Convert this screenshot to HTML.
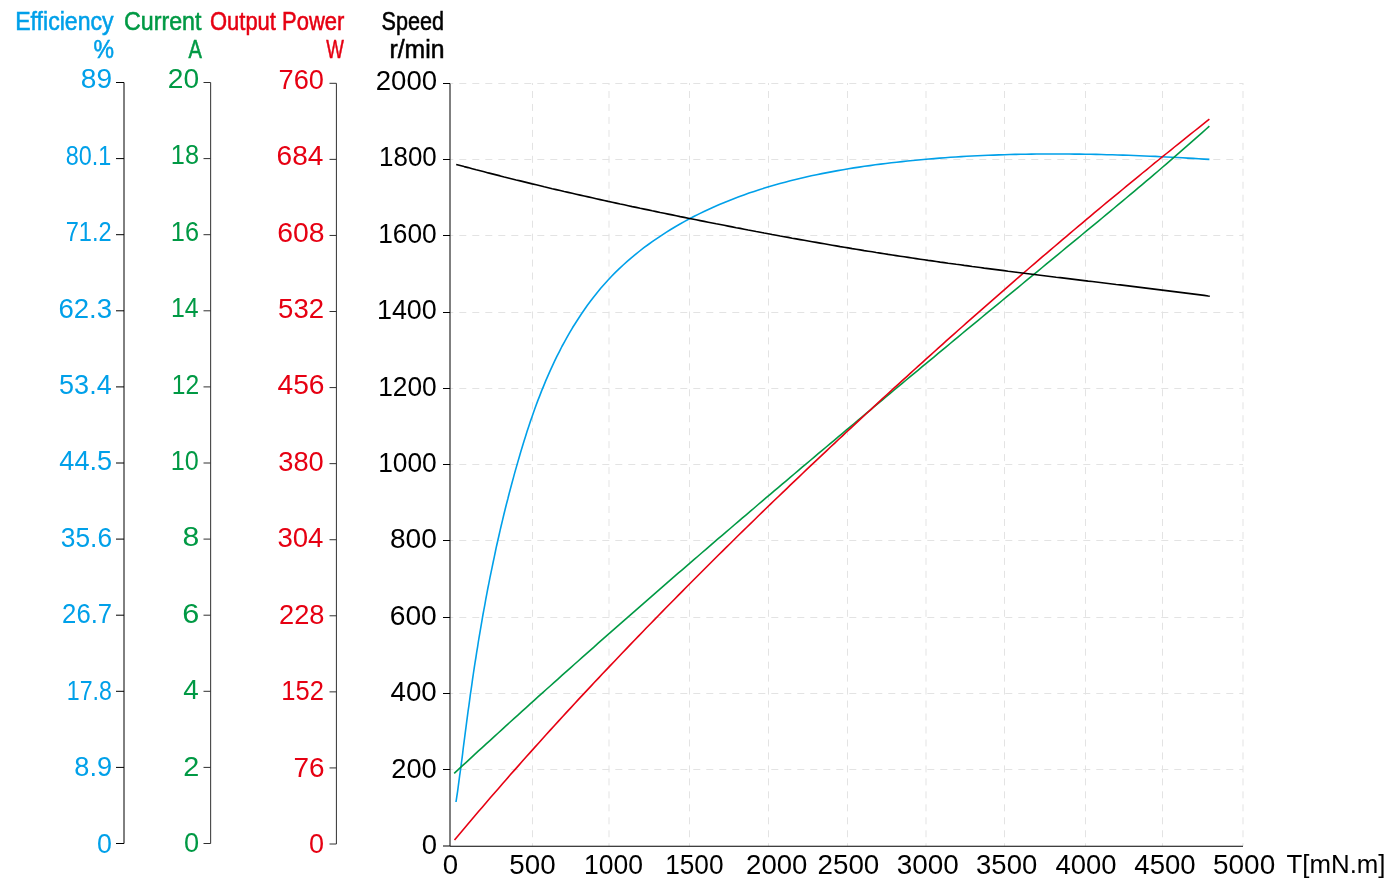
<!DOCTYPE html>
<html><head><meta charset="utf-8"><title>Motor characteristics</title>
<style>html,body{margin:0;padding:0;background:#fff;overflow:hidden}svg{display:block;will-change:transform}</style></head>
<body><svg width="1396" height="887" viewBox="0 0 1396 887">
<rect width="1396" height="887" fill="#fff"/>
<g stroke="#e3e3e3" stroke-width="1" stroke-dasharray="7 5.97" stroke-dashoffset="5" fill="none"><line x1="532.5" y1="83" x2="532.5" y2="846" /><line x1="609.0" y1="83" x2="609.0" y2="846" /><line x1="689.5" y1="83" x2="689.5" y2="846" /><line x1="768.5" y1="83" x2="768.5" y2="846" /><line x1="847.5" y1="83" x2="847.5" y2="846" /><line x1="926.0" y1="83" x2="926.0" y2="846" /><line x1="1004.5" y1="83" x2="1004.5" y2="846" /><line x1="1085.5" y1="83" x2="1085.5" y2="846" /><line x1="1162.5" y1="83" x2="1162.5" y2="846" /><line x1="1243.0" y1="83" x2="1243.0" y2="846" /></g>
<g stroke="#e3e3e3" stroke-width="1" stroke-dasharray="7 6" stroke-dashoffset="3.7" fill="none"><line x1="450" y1="83.5" x2="1243" y2="83.5" /><line x1="450" y1="159.5" x2="1243" y2="159.5" /><line x1="450" y1="235.5" x2="1243" y2="235.5" /><line x1="450" y1="312.5" x2="1243" y2="312.5" /><line x1="450" y1="388.5" x2="1243" y2="388.5" /><line x1="450" y1="464.5" x2="1243" y2="464.5" /><line x1="450" y1="540.5" x2="1243" y2="540.5" /><line x1="450" y1="617.5" x2="1243" y2="617.5" /><line x1="450" y1="693.5" x2="1243" y2="693.5" /><line x1="450" y1="769.5" x2="1243" y2="769.5" /></g>
<line x1="124.0" y1="82.5" x2="124.0" y2="843.5" stroke="#000" stroke-width="1"/><line x1="116.0" y1="82.50" x2="124.0" y2="82.50" stroke="#000" stroke-width="1"/><line x1="116.0" y1="158.60" x2="124.0" y2="158.60" stroke="#000" stroke-width="1"/><line x1="116.0" y1="234.70" x2="124.0" y2="234.70" stroke="#000" stroke-width="1"/><line x1="116.0" y1="310.80" x2="124.0" y2="310.80" stroke="#000" stroke-width="1"/><line x1="116.0" y1="386.90" x2="124.0" y2="386.90" stroke="#000" stroke-width="1"/><line x1="116.0" y1="463.00" x2="124.0" y2="463.00" stroke="#000" stroke-width="1"/><line x1="116.0" y1="539.10" x2="124.0" y2="539.10" stroke="#000" stroke-width="1"/><line x1="116.0" y1="615.20" x2="124.0" y2="615.20" stroke="#000" stroke-width="1"/><line x1="116.0" y1="691.30" x2="124.0" y2="691.30" stroke="#000" stroke-width="1"/><line x1="116.0" y1="767.40" x2="124.0" y2="767.40" stroke="#000" stroke-width="1"/><line x1="116.0" y1="843.50" x2="124.0" y2="843.50" stroke="#000" stroke-width="1"/>
<line x1="210.65" y1="82.5" x2="210.65" y2="843.5" stroke="#303030" stroke-width="1"/><line x1="203.5" y1="82.50" x2="210.65" y2="82.50" stroke="#303030" stroke-width="1"/><line x1="203.5" y1="158.60" x2="210.65" y2="158.60" stroke="#303030" stroke-width="1"/><line x1="203.5" y1="234.70" x2="210.65" y2="234.70" stroke="#303030" stroke-width="1"/><line x1="203.5" y1="310.80" x2="210.65" y2="310.80" stroke="#303030" stroke-width="1"/><line x1="203.5" y1="386.90" x2="210.65" y2="386.90" stroke="#303030" stroke-width="1"/><line x1="203.5" y1="463.00" x2="210.65" y2="463.00" stroke="#303030" stroke-width="1"/><line x1="203.5" y1="539.10" x2="210.65" y2="539.10" stroke="#303030" stroke-width="1"/><line x1="203.5" y1="615.20" x2="210.65" y2="615.20" stroke="#303030" stroke-width="1"/><line x1="203.5" y1="691.30" x2="210.65" y2="691.30" stroke="#303030" stroke-width="1"/><line x1="203.5" y1="767.40" x2="210.65" y2="767.40" stroke="#303030" stroke-width="1"/><line x1="203.5" y1="843.50" x2="210.65" y2="843.50" stroke="#303030" stroke-width="1"/>
<line x1="336.4" y1="83.3" x2="336.4" y2="844.0" stroke="#303030" stroke-width="1"/><line x1="329.5" y1="83.30" x2="336.4" y2="83.30" stroke="#303030" stroke-width="1"/><line x1="329.5" y1="159.37" x2="336.4" y2="159.37" stroke="#303030" stroke-width="1"/><line x1="329.5" y1="235.44" x2="336.4" y2="235.44" stroke="#303030" stroke-width="1"/><line x1="329.5" y1="311.51" x2="336.4" y2="311.51" stroke="#303030" stroke-width="1"/><line x1="329.5" y1="387.58" x2="336.4" y2="387.58" stroke="#303030" stroke-width="1"/><line x1="329.5" y1="463.65" x2="336.4" y2="463.65" stroke="#303030" stroke-width="1"/><line x1="329.5" y1="539.72" x2="336.4" y2="539.72" stroke="#303030" stroke-width="1"/><line x1="329.5" y1="615.79" x2="336.4" y2="615.79" stroke="#303030" stroke-width="1"/><line x1="329.5" y1="691.86" x2="336.4" y2="691.86" stroke="#303030" stroke-width="1"/><line x1="329.5" y1="767.93" x2="336.4" y2="767.93" stroke="#303030" stroke-width="1"/><line x1="329.5" y1="844.00" x2="336.4" y2="844.00" stroke="#303030" stroke-width="1"/>
<line x1="450.0" y1="83.5" x2="450.0" y2="846.0" stroke="#000" stroke-width="1"/><line x1="443.0" y1="83.50" x2="450.0" y2="83.50" stroke="#000" stroke-width="1"/><line x1="443.0" y1="159.50" x2="450.0" y2="159.50" stroke="#000" stroke-width="1"/><line x1="443.0" y1="235.50" x2="450.0" y2="235.50" stroke="#000" stroke-width="1"/><line x1="443.0" y1="312.50" x2="450.0" y2="312.50" stroke="#000" stroke-width="1"/><line x1="443.0" y1="388.50" x2="450.0" y2="388.50" stroke="#000" stroke-width="1"/><line x1="443.0" y1="464.50" x2="450.0" y2="464.50" stroke="#000" stroke-width="1"/><line x1="443.0" y1="540.50" x2="450.0" y2="540.50" stroke="#000" stroke-width="1"/><line x1="443.0" y1="617.50" x2="450.0" y2="617.50" stroke="#000" stroke-width="1"/><line x1="443.0" y1="693.50" x2="450.0" y2="693.50" stroke="#000" stroke-width="1"/><line x1="443.0" y1="769.50" x2="450.0" y2="769.50" stroke="#000" stroke-width="1"/><line x1="443.0" y1="846.00" x2="450.0" y2="846.00" stroke="#000" stroke-width="1"/>
<line x1="450" y1="846.25" x2="1243" y2="846.25" stroke="#000" stroke-width="1"/>
<g font-family='"Liberation Sans", sans-serif' font-size="27"><text x="80.81" y="88.00" fill="#00a0e9" textLength="31.22" lengthAdjust="spacingAndGlyphs">89</text><text x="65.82" y="165.00" fill="#00a0e9" textLength="45.55" lengthAdjust="spacingAndGlyphs">80.1</text><text x="65.67" y="241.00" fill="#00a0e9" textLength="45.96" lengthAdjust="spacingAndGlyphs">71.2</text><text x="58.45" y="318.00" fill="#00a0e9" textLength="53.67" lengthAdjust="spacingAndGlyphs">62.3</text><text x="59.11" y="394.00" fill="#00a0e9" textLength="52.55" lengthAdjust="spacingAndGlyphs">53.4</text><text x="59.37" y="470.00" fill="#00a0e9" textLength="52.78" lengthAdjust="spacingAndGlyphs">44.5</text><text x="60.76" y="547.00" fill="#00a0e9" textLength="51.30" lengthAdjust="spacingAndGlyphs">35.6</text><text x="62.09" y="623.00" fill="#00a0e9" textLength="50.05" lengthAdjust="spacingAndGlyphs">26.7</text><text x="66.82" y="700.00" fill="#00a0e9" textLength="45.08" lengthAdjust="spacingAndGlyphs">17.8</text><text x="74.35" y="776.00" fill="#00a0e9" textLength="37.82" lengthAdjust="spacingAndGlyphs">8.9</text><text x="97.10" y="853.00" fill="#00a0e9" textLength="14.91" lengthAdjust="spacingAndGlyphs">0</text><text x="167.87" y="88.00" fill="#009944" textLength="31.31" lengthAdjust="spacingAndGlyphs">20</text><text x="170.85" y="164.00" fill="#009944" textLength="28.14" lengthAdjust="spacingAndGlyphs">18</text><text x="170.85" y="241.00" fill="#009944" textLength="28.16" lengthAdjust="spacingAndGlyphs">16</text><text x="170.89" y="317.00" fill="#009944" textLength="27.68" lengthAdjust="spacingAndGlyphs">14</text><text x="171.71" y="394.00" fill="#009944" textLength="27.38" lengthAdjust="spacingAndGlyphs">12</text><text x="170.86" y="470.00" fill="#009944" textLength="27.99" lengthAdjust="spacingAndGlyphs">10</text><text x="182.41" y="546.00" fill="#009944" textLength="16.80" lengthAdjust="spacingAndGlyphs">8</text><text x="182.18" y="623.00" fill="#009944" textLength="17.07" lengthAdjust="spacingAndGlyphs">6</text><text x="183.15" y="699.00" fill="#009944" textLength="15.48" lengthAdjust="spacingAndGlyphs">4</text><text x="183.23" y="776.00" fill="#009944" textLength="16.05" lengthAdjust="spacingAndGlyphs">2</text><text x="183.98" y="852.00" fill="#009944" textLength="15.14" lengthAdjust="spacingAndGlyphs">0</text><text x="278.59" y="89.00" fill="#e60012" textLength="45.37" lengthAdjust="spacingAndGlyphs">760</text><text x="276.62" y="165.00" fill="#e60012" textLength="46.86" lengthAdjust="spacingAndGlyphs">684</text><text x="277.20" y="242.00" fill="#e60012" textLength="47.36" lengthAdjust="spacingAndGlyphs">608</text><text x="278.08" y="318.00" fill="#e60012" textLength="45.97" lengthAdjust="spacingAndGlyphs">532</text><text x="277.44" y="394.00" fill="#e60012" textLength="47.13" lengthAdjust="spacingAndGlyphs">456</text><text x="278.22" y="471.00" fill="#e60012" textLength="45.54" lengthAdjust="spacingAndGlyphs">380</text><text x="277.41" y="547.00" fill="#e60012" textLength="46.06" lengthAdjust="spacingAndGlyphs">304</text><text x="279.01" y="624.00" fill="#e60012" textLength="45.49" lengthAdjust="spacingAndGlyphs">228</text><text x="281.33" y="700.00" fill="#e60012" textLength="42.61" lengthAdjust="spacingAndGlyphs">152</text><text x="293.45" y="777.00" fill="#e60012" textLength="31.09" lengthAdjust="spacingAndGlyphs">76</text><text x="308.99" y="853.00" fill="#e60012" textLength="15.03" lengthAdjust="spacingAndGlyphs">0</text><text x="375.80" y="90.00" fill="#000000" textLength="61.29" lengthAdjust="spacingAndGlyphs">2000</text><text x="379.11" y="166.00" fill="#000000" textLength="57.61" lengthAdjust="spacingAndGlyphs">1800</text><text x="378.17" y="243.00" fill="#000000" textLength="58.56" lengthAdjust="spacingAndGlyphs">1600</text><text x="376.93" y="319.00" fill="#000000" textLength="59.83" lengthAdjust="spacingAndGlyphs">1400</text><text x="378.17" y="396.00" fill="#000000" textLength="58.56" lengthAdjust="spacingAndGlyphs">1200</text><text x="378.17" y="472.00" fill="#000000" textLength="58.56" lengthAdjust="spacingAndGlyphs">1000</text><text x="389.91" y="548.00" fill="#000000" textLength="46.89" lengthAdjust="spacingAndGlyphs">800</text><text x="389.71" y="625.00" fill="#000000" textLength="47.09" lengthAdjust="spacingAndGlyphs">600</text><text x="390.56" y="701.00" fill="#000000" textLength="46.22" lengthAdjust="spacingAndGlyphs">400</text><text x="391.32" y="778.00" fill="#000000" textLength="45.44" lengthAdjust="spacingAndGlyphs">200</text><text x="421.87" y="854.00" fill="#000000" textLength="15.26" lengthAdjust="spacingAndGlyphs">0</text><text x="442.86" y="874.00" fill="#000000" textLength="15.38" lengthAdjust="spacingAndGlyphs">0</text><text x="509.27" y="874.00" fill="#000000" textLength="46.31" lengthAdjust="spacingAndGlyphs">500</text><text x="583.96" y="874.00" fill="#000000" textLength="58.98" lengthAdjust="spacingAndGlyphs">1000</text><text x="665.18" y="874.00" fill="#000000" textLength="58.35" lengthAdjust="spacingAndGlyphs">1500</text><text x="746.10" y="874.00" fill="#000000" textLength="61.18" lengthAdjust="spacingAndGlyphs">2000</text><text x="817.49" y="874.00" fill="#000000" textLength="61.81" lengthAdjust="spacingAndGlyphs">2500</text><text x="896.89" y="874.00" fill="#000000" textLength="62.01" lengthAdjust="spacingAndGlyphs">3000</text><text x="976.11" y="874.00" fill="#000000" textLength="61.07" lengthAdjust="spacingAndGlyphs">3500</text><text x="1055.46" y="874.00" fill="#000000" textLength="61.02" lengthAdjust="spacingAndGlyphs">4000</text><text x="1134.36" y="874.00" fill="#000000" textLength="61.33" lengthAdjust="spacingAndGlyphs">4500</text><text x="1213.06" y="874.00" fill="#000000" textLength="62.14" lengthAdjust="spacingAndGlyphs">5000</text></g>
<text x="1286.5" y="873.3" fill="#000" font-family='"Liberation Sans", sans-serif' font-size="26.5" textLength="99" lengthAdjust="spacingAndGlyphs">T[mN.m]</text>
<text x="15.2" y="30" fill="#00a0e9" stroke="#00a0e9" stroke-width="0.55" font-family='"Liberation Sans", sans-serif' font-size="26" textLength="98.4" lengthAdjust="spacingAndGlyphs">Efficiency</text>
<text x="93.5" y="58" fill="#00a0e9" stroke="#00a0e9" stroke-width="0.55" font-family='"Liberation Sans", sans-serif' font-size="26" textLength="20.5" lengthAdjust="spacingAndGlyphs">%</text>
<text x="124.0" y="30" fill="#009944" stroke="#009944" stroke-width="0.55" font-family='"Liberation Sans", sans-serif' font-size="26" textLength="77.4" lengthAdjust="spacingAndGlyphs">Current</text>
<text x="188.5" y="58" fill="#009944" stroke="#009944" stroke-width="0.55" font-family='"Liberation Sans", sans-serif' font-size="26" textLength="13.4" lengthAdjust="spacingAndGlyphs">A</text>
<text x="210.0" y="30" fill="#e60012" stroke="#e60012" stroke-width="0.55" font-family='"Liberation Sans", sans-serif' font-size="26" textLength="134.3" lengthAdjust="spacingAndGlyphs">Output Power</text>
<text x="326.3" y="58" fill="#e60012" stroke="#e60012" stroke-width="0.55" font-family='"Liberation Sans", sans-serif' font-size="26" textLength="17.6" lengthAdjust="spacingAndGlyphs">W</text>
<text x="381.5" y="30" fill="#000000" stroke="#000000" stroke-width="0.55" font-family='"Liberation Sans", sans-serif' font-size="26" textLength="62.4" lengthAdjust="spacingAndGlyphs">Speed</text>
<text x="389.5" y="58" fill="#000000" stroke="#000000" stroke-width="0.55" font-family='"Liberation Sans", sans-serif' font-size="26" textLength="55.0" lengthAdjust="spacingAndGlyphs">r/min</text>
<polyline points="456.0,802.0 456.8,796.7 457.6,791.3 458.3,786.0 459.0,780.7 459.7,775.3 460.5,770.0 461.2,764.6 461.9,759.3 462.6,753.9 463.2,748.5 463.9,743.2 464.6,737.8 465.3,732.4 466.0,727.1 466.7,721.7 467.4,716.3 468.1,711.0 468.9,705.6 469.6,700.3 470.3,694.9 471.1,689.6 471.9,684.2 472.6,678.9 473.4,673.5 474.2,668.2 475.0,662.9 475.9,657.5 476.7,652.2 477.6,646.9 478.4,641.5 479.3,636.2 480.2,630.9 481.1,625.6 482.0,620.3 482.9,615.0 483.9,609.7 484.9,604.4 485.8,599.1 486.8,593.8 487.8,588.5 488.9,583.2 489.9,577.9 491.0,572.6 492.1,567.3 493.2,562.0 494.3,556.8 495.4,551.5 496.5,546.2 497.7,541.0 498.9,535.7 500.1,530.4 501.3,525.2 502.6,519.9 503.8,514.7 505.1,509.5 506.4,504.2 507.8,499.0 509.1,493.7 510.5,488.5 511.9,483.3 513.3,478.1 514.7,472.9 516.2,467.6 517.7,462.4 519.2,457.2 520.7,452.0 522.3,446.8 523.9,441.6 525.5,436.5 527.1,431.3 528.8,426.2 530.5,421.0 532.3,415.9 534.1,410.8 535.9,405.7 537.8,400.6 539.8,395.6 541.7,390.6 543.8,385.6 545.8,380.6 548.0,375.6 550.2,370.7 552.4,365.8 554.7,360.9 557.0,356.1 559.5,351.3 561.9,346.5 564.5,341.8 567.1,337.1 569.8,332.4 572.5,327.8 575.4,323.2 578.3,318.7 581.2,314.2 584.3,309.7 587.4,305.3 590.6,301.0 593.9,296.7 597.3,292.5 600.7,288.3 604.3,284.2 607.9,280.2 611.6,276.3 615.4,272.4 619.3,268.7 623.2,265.0 627.2,261.4 631.3,257.8 635.5,254.4 639.7,251.0 643.9,247.7 648.3,244.5 652.6,241.4 657.1,238.3 661.6,235.3 666.1,232.4 670.7,229.5 675.3,226.7 680.0,224.0 684.7,221.4 689.5,218.8 694.3,216.3 699.1,213.9 704.0,211.5 708.9,209.2 713.8,207.0 718.8,204.8 723.8,202.7 728.8,200.7 733.8,198.7 738.8,196.8 743.9,194.9 749.0,193.1 754.1,191.4 759.2,189.7 764.4,188.1 769.5,186.5 774.7,185.0 779.9,183.6 785.1,182.2 790.3,180.8 795.6,179.5 800.8,178.2 806.1,177.0 811.3,175.8 816.6,174.7 821.9,173.6 827.2,172.6 832.5,171.6 837.8,170.6 843.1,169.7 848.5,168.8 853.8,167.9 859.2,167.1 864.5,166.3 869.9,165.6 875.2,164.8 880.6,164.1 885.9,163.5 891.3,162.8 896.7,162.2 902.0,161.6 907.4,161.0 912.8,160.5 918.2,160.0 923.5,159.5 928.9,159.0 934.3,158.6 939.7,158.1 945.1,157.7 950.4,157.3 955.8,157.0 961.2,156.6 966.6,156.3 972.0,156.0 977.4,155.8 982.8,155.5 988.2,155.3 993.6,155.1 998.9,154.9 1004.3,154.7 1009.7,154.5 1015.1,154.4 1020.5,154.3 1025.9,154.2 1031.3,154.1 1036.7,154.0 1042.1,154.0 1047.5,154.0 1052.9,154.0 1058.3,154.0 1063.7,154.0 1069.1,154.0 1074.5,154.1 1079.9,154.1 1085.3,154.2 1090.7,154.3 1096.1,154.4 1101.5,154.5 1106.9,154.7 1112.3,154.8 1117.7,155.0 1123.1,155.1 1128.5,155.3 1133.9,155.5 1139.3,155.7 1144.7,156.0 1150.1,156.2 1155.5,156.4 1160.9,156.7 1166.3,157.0 1171.7,157.2 1177.1,157.5 1182.5,157.8 1187.8,158.1 1193.2,158.4 1198.6,158.7 1204.0,159.1 1209.4,159.4" fill="none" stroke="#00a0e9" stroke-width="1.6" stroke-linejoin="round" stroke-linecap="butt"/>
<polyline points="454.2,773.3 458.2,769.6 462.2,765.9 466.2,762.3 470.2,758.6 474.2,754.9 478.2,751.2 482.2,747.6 486.2,743.9 490.2,740.3 494.2,736.6 498.2,733.0 502.2,729.3 506.2,725.7 510.2,722.0 514.2,718.4 518.2,714.8 522.2,711.2 526.2,707.6 530.2,703.9 534.2,700.3 538.2,696.7 542.2,693.1 546.2,689.5 550.2,686.0 554.2,682.4 558.2,678.8 562.2,675.2 566.2,671.7 570.2,668.1 574.2,664.5 578.2,661.0 582.2,657.4 586.2,653.9 590.2,650.3 594.2,646.8 598.2,643.2 602.2,639.7 606.2,636.2 610.2,632.6 614.2,629.1 618.2,625.6 622.2,622.1 626.2,618.6 630.2,615.1 634.2,611.6 638.2,608.1 642.2,604.6 646.2,601.1 650.2,597.6 654.2,594.1 658.2,590.6 662.2,587.1 666.2,583.6 670.2,580.2 674.2,576.7 678.2,573.2 682.2,569.8 686.2,566.3 690.2,562.9 694.2,559.4 698.2,556.0 702.2,552.5 706.2,549.1 710.2,545.6 714.2,542.2 718.2,538.7 722.2,535.3 726.2,531.9 730.2,528.5 734.2,525.0 738.2,521.6 742.2,518.2 746.2,514.8 750.2,511.4 754.2,508.0 758.2,504.5 762.2,501.1 766.2,497.7 770.2,494.3 774.2,490.9 778.2,487.6 782.2,484.2 786.2,480.8 790.2,477.4 794.2,474.0 798.2,470.6 802.2,467.2 806.2,463.9 810.2,460.5 814.2,457.1 818.2,453.7 822.2,450.4 826.2,447.0 830.2,443.6 834.2,440.3 838.2,436.9 842.2,433.6 846.2,430.2 850.2,426.8 854.2,423.5 858.2,420.1 862.2,416.8 866.2,413.4 870.2,410.1 874.2,406.7 878.2,403.4 882.2,400.1 886.2,396.7 890.2,393.4 894.2,390.0 898.2,386.7 902.2,383.4 906.2,380.0 910.2,376.7 914.2,373.4 918.2,370.1 922.2,366.7 926.2,363.4 930.2,360.1 934.2,356.8 938.2,353.4 942.2,350.1 946.2,346.8 950.2,343.5 954.2,340.2 958.2,336.9 962.2,333.5 966.2,330.2 970.2,326.9 974.2,323.6 978.2,320.3 982.2,317.0 986.2,313.7 990.2,310.4 994.2,307.1 998.2,303.8 1002.2,300.5 1006.2,297.2 1010.2,293.9 1014.2,290.6 1018.2,287.3 1022.2,284.0 1026.2,280.7 1030.2,277.4 1034.2,274.1 1038.2,270.8 1042.2,267.5 1046.2,264.2 1050.2,260.9 1054.2,257.6 1058.2,254.3 1062.2,251.0 1066.2,247.7 1070.2,244.4 1074.2,241.1 1078.2,237.8 1082.2,234.5 1086.2,231.2 1090.2,227.9 1094.2,224.6 1098.2,221.3 1102.2,218.0 1106.2,214.7 1110.2,211.3 1114.2,208.0 1118.2,204.7 1122.2,201.3 1126.2,198.0 1130.2,194.7 1134.2,191.3 1138.2,187.9 1142.2,184.6 1146.2,181.2 1150.2,177.8 1154.2,174.4 1158.2,171.0 1162.2,167.5 1166.2,164.1 1170.2,160.7 1174.2,157.2 1178.2,153.7 1182.2,150.2 1186.2,146.7 1190.2,143.2 1194.2,139.7 1198.2,136.1 1202.2,132.6 1206.2,129.0 1209.4,126.1" fill="none" stroke="#009944" stroke-width="1.6" stroke-linejoin="round" stroke-linecap="butt"/>
<polyline points="454.5,840.1 458.5,835.3 462.5,830.5 466.5,825.8 470.5,821.0 474.5,816.3 478.5,811.6 482.5,806.9 486.5,802.2 490.5,797.6 494.5,793.0 498.5,788.4 502.5,783.8 506.5,779.2 510.5,774.6 514.5,770.1 518.5,765.6 522.5,761.0 526.5,756.5 530.5,752.1 534.5,747.6 538.5,743.2 542.5,738.7 546.5,734.3 550.5,729.9 554.5,725.5 558.5,721.1 562.5,716.8 566.5,712.4 570.5,708.1 574.5,703.8 578.5,699.4 582.5,695.1 586.5,690.9 590.5,686.6 594.5,682.3 598.5,678.1 602.5,673.8 606.5,669.6 610.5,665.4 614.5,661.2 618.5,657.0 622.5,652.8 626.5,648.6 630.5,644.4 634.5,640.3 638.5,636.1 642.5,632.0 646.5,627.8 650.5,623.7 654.5,619.6 658.5,615.5 662.5,611.4 666.5,607.3 670.5,603.2 674.5,599.2 678.5,595.1 682.5,591.1 686.5,587.0 690.5,583.0 694.5,579.0 698.5,575.0 702.5,571.0 706.5,567.0 710.5,563.0 714.5,559.0 718.5,555.0 722.5,551.1 726.5,547.1 730.5,543.2 734.5,539.2 738.5,535.3 742.5,531.4 746.5,527.5 750.5,523.6 754.5,519.7 758.5,515.8 762.5,511.9 766.5,508.0 770.5,504.2 774.5,500.3 778.5,496.5 782.5,492.6 786.5,488.8 790.5,484.9 794.5,481.1 798.5,477.3 802.5,473.5 806.5,469.7 810.5,465.9 814.5,462.1 818.5,458.3 822.5,454.6 826.5,450.8 830.5,447.0 834.5,443.3 838.5,439.5 842.5,435.8 846.5,432.0 850.5,428.3 854.5,424.6 858.5,420.9 862.5,417.2 866.5,413.5 870.5,409.8 874.5,406.1 878.5,402.4 882.5,398.7 886.5,395.0 890.5,391.4 894.5,387.7 898.5,384.1 902.5,380.4 906.5,376.8 910.5,373.1 914.5,369.5 918.5,365.9 922.5,362.3 926.5,358.7 930.5,355.1 934.5,351.5 938.5,347.9 942.5,344.3 946.5,340.7 950.5,337.1 954.5,333.6 958.5,330.0 962.5,326.5 966.5,322.9 970.5,319.4 974.5,315.8 978.5,312.3 982.5,308.8 986.5,305.3 990.5,301.8 994.5,298.3 998.5,294.8 1002.5,291.3 1006.5,287.8 1010.5,284.3 1014.5,280.8 1018.5,277.4 1022.5,273.9 1026.5,270.5 1030.5,267.0 1034.5,263.6 1038.5,260.2 1042.5,256.7 1046.5,253.3 1050.5,249.9 1054.5,246.5 1058.5,243.1 1062.5,239.7 1066.5,236.3 1070.5,232.9 1074.5,229.5 1078.5,226.2 1082.5,222.8 1086.5,219.4 1090.5,216.1 1094.5,212.7 1098.5,209.4 1102.5,206.0 1106.5,202.7 1110.5,199.4 1114.5,196.1 1118.5,192.8 1122.5,189.5 1126.5,186.2 1130.5,182.9 1134.5,179.6 1138.5,176.3 1142.5,173.0 1146.5,169.8 1150.5,166.5 1154.5,163.2 1158.5,160.0 1162.5,156.7 1166.5,153.5 1170.5,150.3 1174.5,147.0 1178.5,143.8 1182.5,140.6 1186.5,137.4 1190.5,134.2 1194.5,131.0 1198.5,127.8 1202.5,124.6 1206.5,121.4 1209.4,119.1" fill="none" stroke="#e60012" stroke-width="1.6" stroke-linejoin="round" stroke-linecap="butt"/>
<polyline points="456.2,164.4 460.2,165.5 464.2,166.6 468.2,167.6 472.2,168.7 476.2,169.8 480.2,170.8 484.2,171.8 488.2,172.9 492.2,173.9 496.2,174.9 500.2,175.9 504.2,177.0 508.2,178.0 512.2,179.0 516.2,180.0 520.2,180.9 524.2,181.9 528.2,182.9 532.2,183.9 536.2,184.8 540.2,185.8 544.2,186.8 548.2,187.7 552.2,188.7 556.2,189.6 560.2,190.5 564.2,191.5 568.2,192.4 572.2,193.3 576.2,194.2 580.2,195.1 584.2,196.0 588.2,196.9 592.2,197.8 596.2,198.7 600.2,199.6 604.2,200.5 608.2,201.4 612.2,202.2 616.2,203.1 620.2,204.0 624.2,204.8 628.2,205.7 632.2,206.6 636.2,207.4 640.2,208.3 644.2,209.1 648.2,209.9 652.2,210.8 656.2,211.6 660.2,212.5 664.2,213.3 668.2,214.1 672.2,214.9 676.2,215.7 680.2,216.6 684.2,217.4 688.2,218.2 692.2,219.0 696.2,219.8 700.2,220.6 704.2,221.4 708.2,222.2 712.2,223.0 716.2,223.8 720.2,224.5 724.2,225.3 728.2,226.1 732.2,226.9 736.2,227.7 740.2,228.4 744.2,229.2 748.2,230.0 752.2,230.7 756.2,231.5 760.2,232.2 764.2,233.0 768.2,233.7 772.2,234.5 776.2,235.2 780.2,236.0 784.2,236.7 788.2,237.4 792.2,238.2 796.2,238.9 800.2,239.6 804.2,240.3 808.2,241.0 812.2,241.7 816.2,242.4 820.2,243.1 824.2,243.8 828.2,244.5 832.2,245.2 836.2,245.9 840.2,246.6 844.2,247.2 848.2,247.9 852.2,248.6 856.2,249.2 860.2,249.9 864.2,250.6 868.2,251.2 872.2,251.8 876.2,252.5 880.2,253.1 884.2,253.7 888.2,254.4 892.2,255.0 896.2,255.6 900.2,256.2 904.2,256.8 908.2,257.4 912.2,258.0 916.2,258.6 920.2,259.2 924.2,259.8 928.2,260.4 932.2,260.9 936.2,261.5 940.2,262.1 944.2,262.6 948.2,263.2 952.2,263.7 956.2,264.3 960.2,264.8 964.2,265.4 968.2,265.9 972.2,266.5 976.2,267.0 980.2,267.5 984.2,268.1 988.2,268.6 992.2,269.1 996.2,269.6 1000.2,270.1 1004.2,270.6 1008.2,271.2 1012.2,271.7 1016.2,272.2 1020.2,272.7 1024.2,273.2 1028.2,273.7 1032.2,274.2 1036.2,274.7 1040.2,275.2 1044.2,275.7 1048.2,276.2 1052.2,276.7 1056.2,277.2 1060.2,277.6 1064.2,278.1 1068.2,278.6 1072.2,279.1 1076.2,279.6 1080.2,280.1 1084.2,280.6 1088.2,281.1 1092.2,281.5 1096.2,282.0 1100.2,282.5 1104.2,283.0 1108.2,283.5 1112.2,284.0 1116.2,284.5 1120.2,284.9 1124.2,285.4 1128.2,285.9 1132.2,286.4 1136.2,286.9 1140.2,287.4 1144.2,287.9 1148.2,288.4 1152.2,288.9 1156.2,289.4 1160.2,289.9 1164.2,290.4 1168.2,290.9 1172.2,291.4 1176.2,291.9 1180.2,292.4 1184.2,292.9 1188.2,293.4 1192.2,293.9 1196.2,294.4 1200.2,294.9 1204.2,295.4 1208.2,296.0 1209.8,296.2" fill="none" stroke="#000000" stroke-width="1.6" stroke-linejoin="round" stroke-linecap="butt"/>
</svg></body></html>
